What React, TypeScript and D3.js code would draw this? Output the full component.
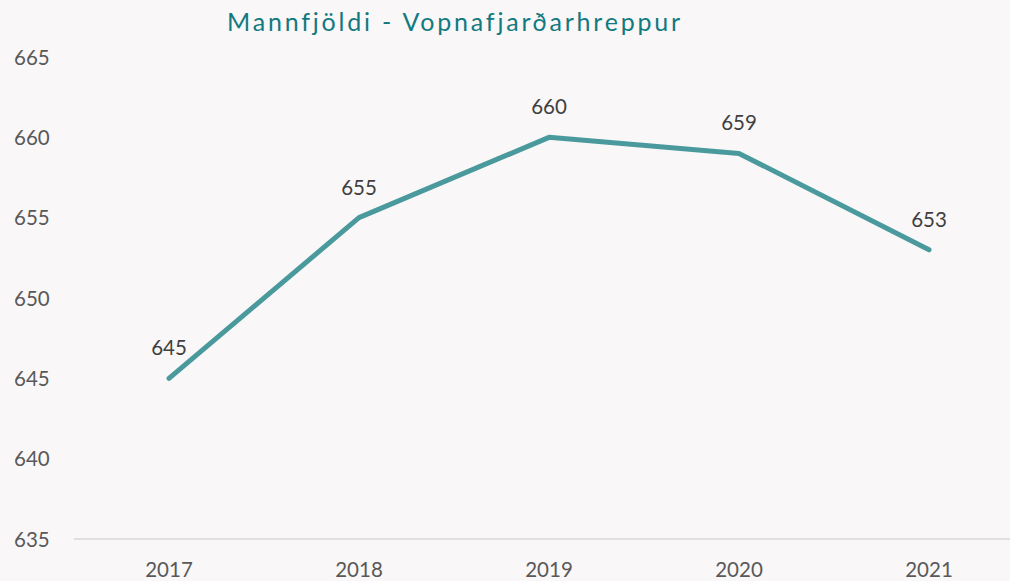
import React from "react";
import * as d3 from "d3";

const years = ["2017", "2018", "2019", "2020", "2021"];
const population = [645, 655, 660, 659, 653];
const yTicks = [635, 640, 645, 650, 655, 660, 665];
const title = "Mannfjöldi - Vopnafjarðarhreppur";

const W = 1010;
const H = 581;

export default function App() {
  const x = d3.scalePoint<string>().domain(years).range([169, 929]);
  const y = d3.scaleLinear().domain([635, 665]).range([539, 57]);
  const line = d3
    .line<number>()
    .x((_, i) => x(years[i]) as number)
    .y((d) => y(d));
  const font = "Lato, 'Open Sans', sans-serif";
  return (
    <svg
      width={W}
      height={H}
      style={{ position: "absolute", left: 0, top: 0, background: "#f9f7f8" }}
    >
      <rect x={0} y={0} width={W} height={H} fill="#f9f7f8" />
      <text
        x={455}
        y={31}
        textAnchor="middle"
        fontFamily={font}
        fontSize={25}
        letterSpacing={2.8}
        fill="#117a80"
      >
        {title}
      </text>
      {yTicks.map((t) => (
        <text
          key={t}
          x={14}
          y={y(t) + 7.5}
          fontFamily={font}
          fontSize={20.5}
          fill="#595959"
        >
          {t}
        </text>
      ))}
      <line x1={74} x2={W} y1={y(635)} y2={y(635)} stroke="#d9d9d9" strokeWidth={1.5} />
      {years.map((yr) => (
        <text
          key={yr}
          x={x(yr)}
          y={577}
          textAnchor="middle"
          fontFamily={font}
          fontSize={20.5}
          fill="#595959"
        >
          {yr}
        </text>
      ))}
      <path
        d={line(population) || ""}
        fill="none"
        stroke="#4a9a9d"
        strokeWidth={5}
        strokeLinecap="round"
        strokeLinejoin="round"
      />
      {population.map((v, i) => (
        <text
          key={i}
          x={x(years[i])}
          y={y(v) - 23}
          textAnchor="middle"
          fontFamily={font}
          fontSize={20.5}
          fill="#404040"
        >
          {v}
        </text>
      ))}
    </svg>
  );
}
